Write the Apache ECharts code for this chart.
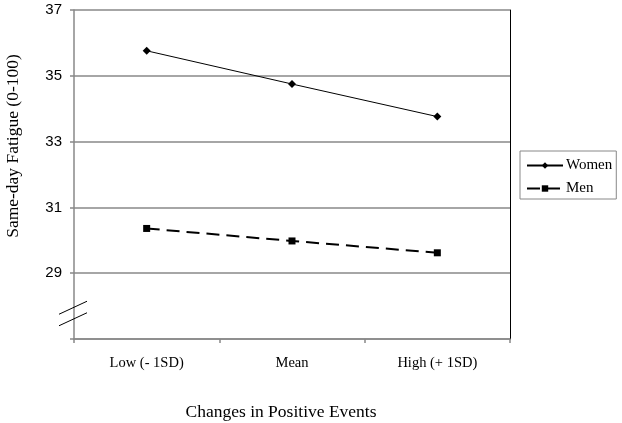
<!DOCTYPE html>
<html>
<head>
<meta charset="utf-8">
<script src="https://cdn.jsdelivr.net/npm/echarts@6/dist/echarts.min.js"></script>
<style>
  html, body { margin: 0; padding: 0; background: #fff; }
  #app { width: 622px; height: 423px; }
</style>
</head>
<body>
<div id="app"></div>
<script>
(function () {
  // data
  const categories = ['Low (- 1SD)', 'Mean', 'High (+ 1SD)'];
  const women = [35.76, 34.75, 33.76];
  const men = [30.36, 29.98, 29.62];
  const yTicks = [29, 31, 33, 35, 37];
  const breakValues = [27.95, 27.6];

  const gray = '#888';
  const serif = '"Liberation Serif", "Times New Roman", serif';
  const sans = '"Liberation Sans", Arial, sans-serif';

  var myChart = echarts.init(document.getElementById('app'));

  let option = {
    animation: false,
    grid: {
      left: 74,
      right: 112,
      top: 10,
      bottom: 84,
      outerBoundsMode: 'none'
    },
    legend: {
      orient: 'vertical',
      left: 520,
      top: 151,
      width: 97,
      borderColor: gray,
      borderWidth: 1,
      padding: [7, 4, 3, 6],
      itemGap: 8,
      itemWidth: 36,
      itemHeight: 8,
      textStyle: { fontFamily: serif, fontSize: 15, color: '#000', padding: [0, 0, 0, -2] },
      data: ['Women', 'Men']
    },
    xAxis: {
      type: 'category',
      data: categories,
      boundaryGap: true,
      name: 'Changes in Positive Events',
      nameLocation: 'middle',
      nameGap: 64,
      nameTextStyle: { fontFamily: serif, fontSize: 17.5, color: '#000', padding: [0, 22, 0, 0] },
      axisLine: { lineStyle: { color: gray, width: 1.5 } },
      axisTick: { show: true, length: 4, lineStyle: { color: gray, width: 1.5 } },
      axisLabel: { fontFamily: serif, fontSize: 14.5, color: '#000', margin: 17 }
    },
    yAxis: [
      {
        type: 'value',
        min: 27,
        max: 37,
        interval: 2,
        name: 'Same-day Fatigue (0-100)',
        nameLocation: 'middle',
        nameRotate: 90,
        nameGap: 52,
        nameTextStyle: { fontFamily: serif, fontSize: 17.5, color: '#000', padding: [0, 0, 0, 57] },
        axisLine: { show: true, lineStyle: { color: gray, width: 1.5 } },
        axisTick: { show: true, length: 4, lineStyle: { color: gray, width: 1.5 } },
        axisLabel: {
          fontFamily: sans,
          fontSize: 15,
          color: '#000',
          margin: 12,
          formatter: v => (yTicks.indexOf(v) >= 0 ? String(v) : '')
        },
        splitLine: { show: true, lineStyle: { color: gray, width: 1.5 } }
      },
      {
        type: 'value',
        min: 27,
        max: 37,
        interval: 2,
        position: 'right',
        axisLine: { show: true, lineStyle: { color: '#000', width: 1 } },
        axisTick: { show: false },
        axisLabel: { show: false },
        splitLine: { show: false }
      }
    ],
    series: [
      {
        name: 'Women',
        type: 'line',
        data: women,
        symbol: 'diamond',
        symbolSize: 8,
        itemStyle: { color: '#000' },
        lineStyle: { color: '#000', width: 1 }
      },
      {
        name: 'Men',
        type: 'line',
        data: men,
        symbol: 'rect',
        symbolSize: 7,
        itemStyle: { color: '#000' },
        lineStyle: { color: '#000', width: 2, type: [13, 7] }
      }
    ]
  };

  myChart.setOption(option);

  // axis break marks on the y axis
  const axisX = 74;
  const marks = breakValues.map(v => {
    const y = myChart.convertToPixel({ yAxisIndex: 0 }, v);
    return {
      type: 'line',
      shape: { x1: axisX - 15, y1: y + 6.5, x2: axisX + 13, y2: y - 6.5 },
      style: { stroke: '#000', lineWidth: 1 },
      z: 100
    };
  });
  myChart.setOption({ graphic: marks });
})();
</script>
</body>
</html>
